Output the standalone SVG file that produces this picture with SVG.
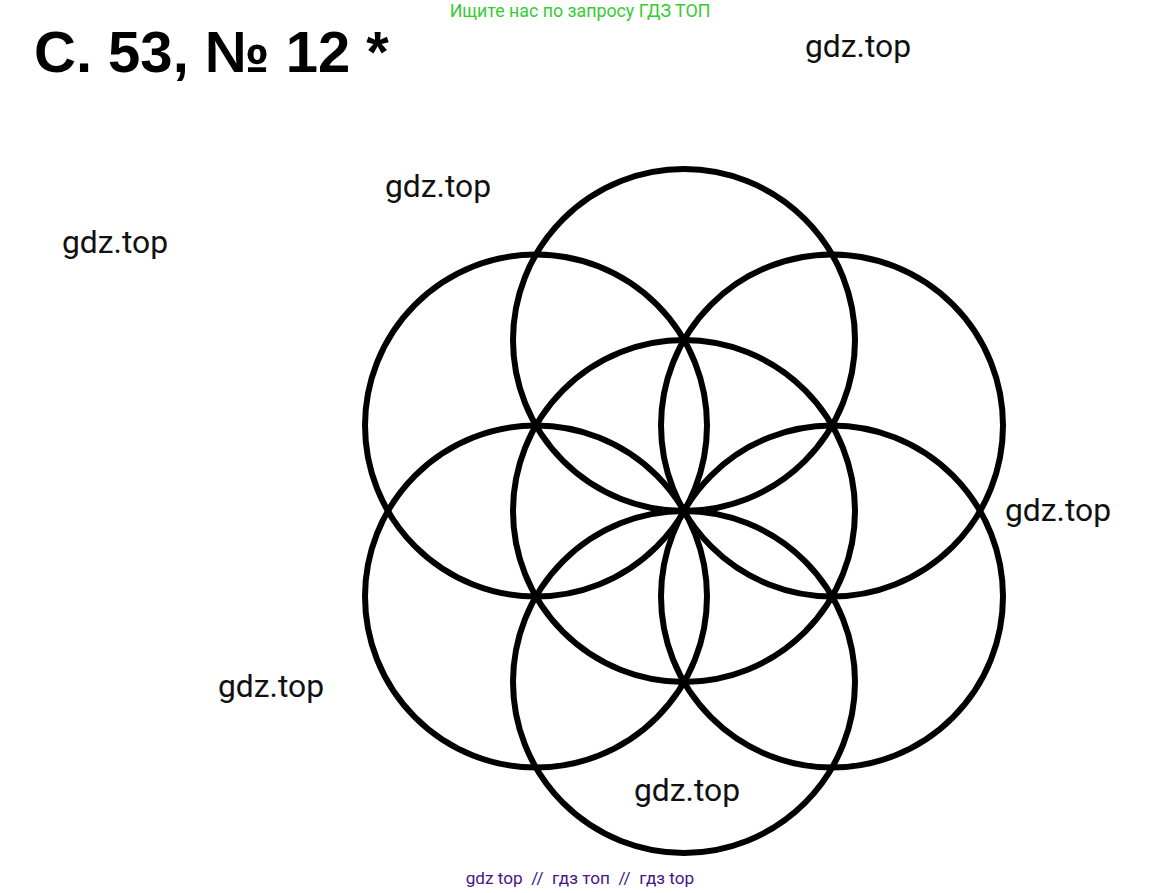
<svg xmlns="http://www.w3.org/2000/svg" width="1160" height="893" viewBox="0 0 1160 893">
<style>
.c{fill:none;stroke:#000;stroke-width:6}
.w{font-family:Roboto,"Liberation Sans",sans-serif;font-size:31.8px;fill:#111}
</style>
<rect width="1160" height="893" fill="#fff"/>
<text x="580" y="17" text-anchor="middle" font-family="Roboto,'Liberation Sans',sans-serif" font-size="17.8" fill="#33cc33">Ищите нас по запросу ГДЗ ТОП</text>
<text x="34" y="72" font-family="'Liberation Sans',Arial,sans-serif" font-weight="bold" font-size="58" fill="#000">С. 53, № 12 *</text>
<g id="flower">
<circle id="c0" class="c" cx="684" cy="511" r="171"/>
<circle id="c1" class="c" cx="684" cy="340" r="171"/>
<circle id="c2" class="c" cx="832" cy="425.5" r="171"/>
<circle id="c3" class="c" cx="832" cy="596.5" r="171"/>
<circle id="c4" class="c" cx="684" cy="682" r="171"/>
<circle id="c5" class="c" cx="536" cy="596.5" r="171"/>
<circle id="c6" class="c" cx="536" cy="425.5" r="171"/>
</g>
<text class="w" x="805" y="57">gdz.top</text>
<text class="w" x="385" y="197">gdz.top</text>
<text class="w" x="62" y="253">gdz.top</text>
<text class="w" x="1005" y="521">gdz.top</text>
<text class="w" x="218" y="697">gdz.top</text>
<text class="w" x="634" y="801">gdz.top</text>
<text x="580" y="884" text-anchor="middle" font-family="Roboto,'Liberation Sans',sans-serif" font-size="17.2" fill="#4b1485" xml:space="preserve">gdz top  //  гдз топ  //  гдз top</text>
</svg>
